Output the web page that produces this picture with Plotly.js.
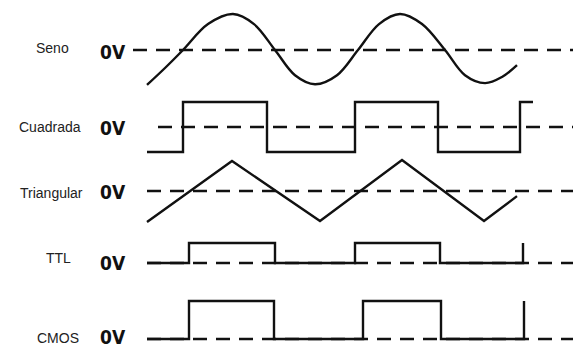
<!DOCTYPE html>
<html>
<head>
<meta charset="utf-8">
<script src="https://cdn.plot.ly/plotly-3.0.1.min.js"></script>
<style>
  html, body { margin: 0; padding: 0; background: #fff; }
  #chart { width: 573px; height: 347px; }
</style>
</head>
<body>
<div id="chart"></div>
<script>
//Signal data (time axis in px-like units, levels normalised)
const senoT = [147, 165, 183, 208, 233, 254, 275, 295, 315, 337, 358, 379, 400, 422, 445, 465, 485, 502, 517];
const senoV = [-0.97, -0.5, 0, 0.72, 1, 0.72, 0, -0.7, -0.95, -0.7, 0, 0.72, 1, 0.72, 0, -0.7, -0.92, -0.75, -0.42];

const cuadT = [147, 183, 267, 355, 438, 520, 533];
const cuadV = [-1, 1, -1, 1, -1, 1, 1];

const triT = [147, 232, 320, 402, 484, 517];
const triV = [-1.03, 1, -1, 1.03, -1, -0.17];

const ttlT = [147, 189, 275, 355, 440, 523];
const ttlV = [0, 1, 0, 1, 0, 1];

const cmosT = [147, 189, 274, 363, 441, 524];
const cmosV = [0, 1, 0, 1, 0, 1];

const labels = ["Seno", "Cuadrada", "Triangular", "TTL", "CMOS"];
const zeroStart = [133, 158, 147, 147, 147];

//Row geometry
const H = 347;
const rows = [
  {z: 50,  u: 36, r: [-1.35, 1.35], lx: 52, ly: 48,  vy: 52},
  {z: 127, u: 25, r: [-1.4, 1.4],   lx: 50, ly: 127, vy: 128},
  {z: 191, u: 30, r: [-1.3, 1.3],   lx: 51, ly: 193, vy: 192},
  {z: 263, u: 20, r: [-0.5, 1.5],   lx: 58, ly: 258, vy: 263},
  {z: 339, u: 38, r: [-0.2, 1.2],   lx: 58, ly: 338, vy: 337}
];

function dom(row) {
  const bottom = row.z - row.r[0] * row.u;
  const top = row.z - row.r[1] * row.u;
  return [Math.max(0, 1 - bottom / H), Math.min(1, 1 - top / H)];
}

const series = [
  {t: senoT, v: senoV, shape: "spline"},
  {t: cuadT, v: cuadV, shape: "hv"},
  {t: triT,  v: triV,  shape: "linear"},
  {t: ttlT,  v: ttlV,  shape: "hv"},
  {t: cmosT, v: cmosV, shape: "hv"}
];

const traces = [];
const layout = {
  width: 573, height: 347,
  margin: {l: 0, r: 0, t: 0, b: 0},
  paper_bgcolor: "#fff", plot_bgcolor: "#fff",
  showlegend: false,
  xaxis: {range: [0, 573], visible: false, fixedrange: true},
  annotations: []
};

series.forEach((s, i) => {
  const ya = i === 0 ? "y" : "y" + (i + 1);
  const key = i === 0 ? "yaxis" : "yaxis" + (i + 1);
  layout[key] = {domain: dom(rows[i]), range: rows[i].r, visible: false, fixedrange: true};
  //0V dashed reference
  traces.push({
    type: "scatter", mode: "lines",
    x: [zeroStart[i], 573], y: [0, 0],
    line: {color: "#111", width: 2.4, dash: "14px,9px"},
    xaxis: "x", yaxis: ya, hoverinfo: "skip"
  });
  //waveform
  traces.push({
    type: "scatter", mode: "lines",
    x: s.t, y: s.v,
    line: {color: "#111", width: 2.4, shape: s.shape, smoothing: 1},
    xaxis: "x", yaxis: ya, hoverinfo: "skip"
  });
  layout.annotations.push({
    text: labels[i], xref: "x", yref: "paper",
    x: rows[i].lx, y: 1 - rows[i].ly / H,
    xanchor: "center", yanchor: "middle", showarrow: false,
    font: {family: "Liberation Sans, Arial, sans-serif", size: 14, color: "#222"}
  });
  layout.annotations.push({
    text: "0V", xref: "x", yref: "paper",
    x: 113, y: 1 - rows[i].vy / H,
    xanchor: "center", yanchor: "middle", showarrow: false,
    font: {family: "DejaVu Sans Condensed, Liberation Sans Narrow, Liberation Sans, sans-serif", size: 19, color: "#111", weight: "bold"}
  });
});

Plotly.newPlot("chart", traces, layout, {staticPlot: true});
</script>
</body>
</html>
